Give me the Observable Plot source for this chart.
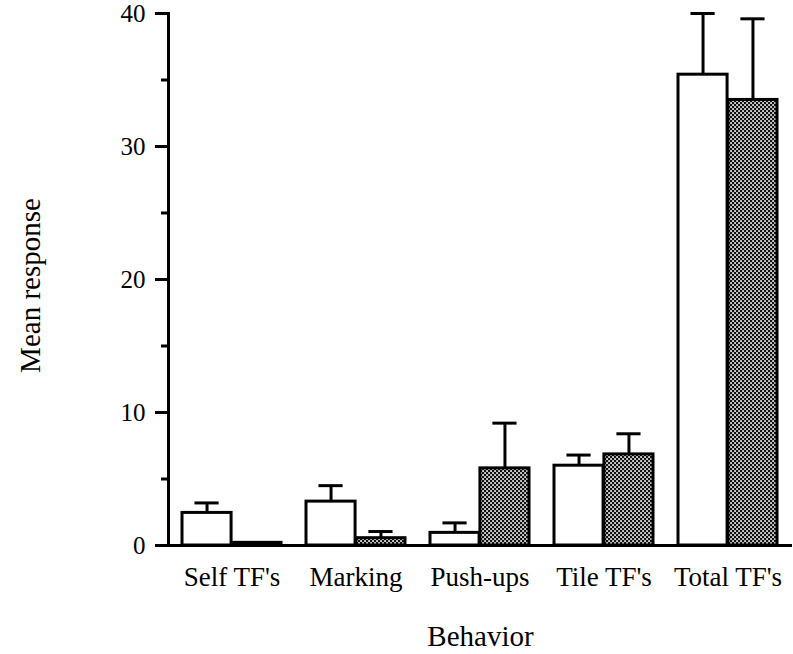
<!DOCTYPE html>
<html>
<head>
<meta charset="utf-8">
<script src="https://cdn.jsdelivr.net/npm/d3@7"></script>
<script src="https://cdn.jsdelivr.net/npm/@observablehq/plot@0.6"></script>
<style>
  html, body { margin: 0; padding: 0; background: white; }
</style>
</head>
<body>
<div id="chart"></div>
<script>
const behaviors = ["Self TF's", "Marking", "Push-ups", "Tile TF's", "Total TF's"];
const whiteMeans = [2.45, 3.3, 0.95, 6.0, 35.4];
const whiteUpper = [3.2, 4.5, 1.7, 6.8, 40.0];
const dottedMeans = [0.2, 0.55, 5.8, 6.85, 33.5];
const dottedUpper = [null, 1.05, 9.2, 8.4, 39.6];
const majorTicks = [0, 10, 20, 30, 40];
const minorTicks = [5, 15, 25, 35];
const yLabel = "Mean response";
const xLabel = "Behavior";

const W = 793, H = 654;
const mL = 168, mR = 1, mT = 13, mB = 109;
const padInner = 0.2, padOuter = 0.1;
const step = (W - mL - mR) / (behaviors.length - padInner + 2 * padOuter);
const bw = step * (1 - padInner);
const capHalf = 12.5;

const whiteRows = behaviors.map((b, i) => ({behavior: b, mean: whiteMeans[i], upper: whiteUpper[i]}));
const dottedRows = behaviors.map((b, i) => ({behavior: b, mean: dottedMeans[i], upper: dottedUpper[i]}));
const whiteErr = whiteRows.filter(d => d.upper != null);
const dottedErr = dottedRows.filter(d => d.upper != null);

const font = "'Liberation Serif', 'Times New Roman', serif";

const chart = Plot.plot({
  width: W,
  height: H,
  marginLeft: mL,
  marginRight: mR,
  marginTop: mT,
  marginBottom: mB,
  style: {fontFamily: font, background: "white", color: "black"},
  x: {domain: behaviors, paddingInner: padInner, paddingOuter: padOuter},
  y: {domain: [0, 40]},
  marks: [
    // error bars
    Plot.ruleX(whiteErr, {x: "behavior", y1: "mean", y2: "upper", dx: -bw / 4, stroke: "black", strokeWidth: 3}),
    Plot.ruleX(dottedErr, {x: "behavior", y1: "mean", y2: "upper", dx: bw / 4, stroke: "black", strokeWidth: 3}),
    Plot.tickY(whiteErr, {x: "behavior", y: "upper", insetLeft: bw / 4 - capHalf, insetRight: 3 * bw / 4 - capHalf, stroke: "black", strokeWidth: 3}),
    Plot.tickY(dottedErr, {x: "behavior", y: "upper", insetLeft: 3 * bw / 4 - capHalf, insetRight: bw / 4 - capHalf, stroke: "black", strokeWidth: 3}),
    // bars
    Plot.barY(whiteRows, {x: "behavior", y: "mean", insetRight: bw / 2, fill: "white", stroke: "black", strokeWidth: 3}),
    Plot.barY(dottedRows, {x: "behavior", y: "mean", insetLeft: bw / 2, fill: "url(#dots)", stroke: "black", strokeWidth: 3}),
    // axes
    Plot.axisY({ticks: majorTicks, tickSize: 13, tickPadding: 10, fontSize: 25, label: null, strokeWidth: 3}),
    Plot.axisY({ticks: minorTicks, tickSize: 7, tickFormat: () => "", label: null, strokeWidth: 3}),
    Plot.axisX({tickSize: 0, tickPadding: 21, fontSize: 27, label: null}),
    Plot.frame({anchor: "left", strokeWidth: 3}),
    Plot.ruleY([0], {strokeWidth: 3}),
    // titles
    Plot.text([yLabel], {text: d => d, frameAnchor: "left", textAnchor: "middle", lineAnchor: "middle", rotate: -90, dx: -138, dy: 6, fontSize: 29}),
    Plot.text([xLabel], {text: d => d, frameAnchor: "bottom", textAnchor: "middle", lineAnchor: "middle", dy: 91, fontSize: 29})
  ]
});

d3.select(chart).insert("defs", ":first-child").html(`
  <pattern id="dots" width="4" height="4" patternUnits="userSpaceOnUse">
    <rect width="4" height="4" fill="#111"/>
    <rect x="0.2" y="0.2" width="1.7" height="1.7" fill="#fff"/>
    <rect x="2.2" y="2.2" width="1.7" height="1.7" fill="#fff"/>
  </pattern>`);

document.getElementById("chart").appendChild(chart);
</script>
</body>
</html>
